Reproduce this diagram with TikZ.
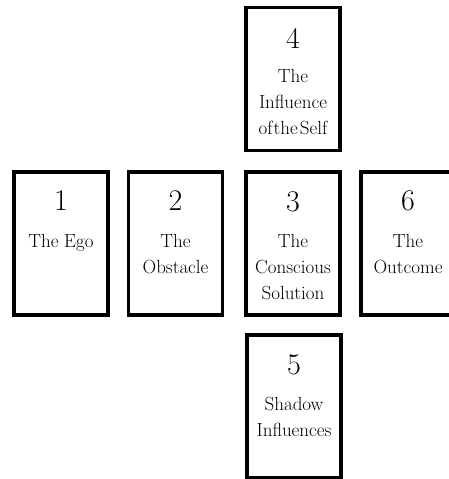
\documentclass[tikz,border=0pt]{standalone}
\begin{document}
\begin{tikzpicture}[x=1pt,y=-1pt,
  card/.style={draw=black,line width=3.5pt,fill=white,minimum width=94pt,minimum height=143pt,inner sep=0pt},
  num/.style={font=\fontsize{30}{30}\selectfont,anchor=base,inner sep=0pt},
  lab/.style={font=\fontsize{19}{19}\selectfont,anchor=base,inner sep=0pt}]
\useasboundingbox (0,0) rectangle (449,479);
\clip (0,0) rectangle (449,479);
% cards
\node[card] (c4) at (293,79) {};
\node[card] (c1) at (61,243.5) {};
\node[card] (c2) at (175.5,243.5) {};
\node[card] (c3) at (293,243.5) {};
\node[card] (c6) at (408,243.5) {};
\node[card] (c5) at (294,406.5) {};
% numbers
\node[num] (n4) at ([yshift=-43pt]c4.north) {4};
\node[num] (n1) at ([yshift=-40pt]c1.north) {1};
\node[num] (n2) at ([yshift=-40pt]c2.north) {2};
\node[num] (n3) at ([yshift=-41pt]c3.north) {3};
\node[num] (n6) at ([yshift=-40pt]c6.north) {6};
\node[num] (n5) at ([yshift=-41pt]c5.north) {5};
% labels
\node[lab] (l4a) at ([yshift=-77pt]c4.north) {The};
\node[lab] (l4b) at ([yshift=-103pt]c4.north) {Influence};
\node[lab] (l4c) at ([yshift=-129pt]c4.north) {of\kern1pt the\kern2pt Self};
\node[lab] (l1a) at ([yshift=-77pt]c1.north) {The Ego};
\node[lab] (l2a) at ([yshift=-77pt]c2.north) {The};
\node[lab] (l2b) at ([yshift=-103pt]c2.north) {Obstacle};
\node[lab] (l3a) at ([yshift=-77pt]c3.north) {The};
\node[lab] (l3b) at ([yshift=-103pt]c3.north) {Conscious};
\node[lab] (l3c) at ([yshift=-129pt]c3.north) {Solution};
\node[lab] (l6a) at ([yshift=-77pt]c6.north) {The};
\node[lab] (l6b) at ([yshift=-103pt]c6.north) {Outcome};
\node[lab] (l5a) at ([yshift=-77pt]c5.north) {Shadow};
\node[lab] (l5b) at ([yshift=-103pt]c5.north) {Influences};
\end{tikzpicture}
\end{document}
